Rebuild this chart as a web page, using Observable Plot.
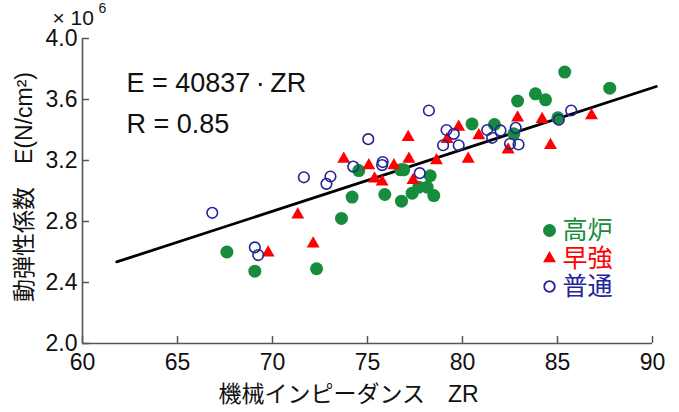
<!DOCTYPE html>
<html><head><meta charset="utf-8">
<script src="https://cdn.jsdelivr.net/npm/d3@7"></script>
<script src="https://cdn.jsdelivr.net/npm/@observablehq/plot@0.6"></script>
<style>html,body{margin:0;padding:0;background:#fff}</style>
</head><body><div id="chart"></div>
<script>
const xTicks = [60, 65, 70, 75, 80, 85, 90];
const yTicks = [2.0, 2.4, 2.8, 3.2, 3.6, 4.0];

const categories = ["高炉", "早強", "普通"];

// 高炉 (blast-furnace cement)
const koroX = [67.6, 69.07, 72.32, 73.63, 74.19, 74.54, 75.91, 76.74, 76.91, 76.79, 77.35, 77.7, 78.14, 78.49, 78.3, 80.5, 81.68, 82.7, 82.9, 83.84, 84.37, 85.02, 85.38, 87.75];
const koroY = [2.60, 2.474, 2.49, 2.82, 2.96, 3.134, 2.977, 3.139, 3.139, 2.933, 2.986, 3.025, 3.025, 2.97, 3.10, 3.44, 3.436, 3.375, 3.59, 3.637, 3.598, 3.48, 3.78, 3.674];

// 早強 (high-early-strength)
const sokyoX = [69.77, 71.33, 72.14, 73.75, 75.07, 75.37, 75.77, 76.39, 77.14, 77.18, 77.4, 78.63, 79.19, 79.8, 80.3, 80.86, 82.4, 82.9, 84.19, 84.63, 86.79];
const sokyoY = [2.595, 2.844, 2.654, 3.21, 3.167, 3.08, 3.06, 3.167, 3.353, 3.21, 3.07, 3.2, 3.34, 3.42, 3.21, 3.364, 3.27, 3.48, 3.47, 3.30, 3.495];

// 普通 (ordinary)
const futsuX = [66.83, 69.07, 69.25, 71.65, 72.84, 73.05, 74.25, 75.04, 75.77, 75.8, 77.75, 78.23, 78.98, 79.16, 79.54, 79.8, 81.3, 81.56, 82.0, 82.5, 82.8, 82.95, 85.07, 85.72];
const futsuY = [2.857, 2.63, 2.58, 3.09, 3.047, 3.095, 3.16, 3.34, 3.17, 3.19, 3.117, 3.528, 3.30, 3.40, 3.375, 3.30, 3.40, 3.349, 3.397, 3.31, 3.414, 3.305, 3.467, 3.528];

// regression line E = 40837・ZR (end points)
const regX = [61.8, 90.2];
const regY = [2.535, 3.685];

const green = "#168c3c", red = "#ff0000", navy = "#23239a", axisColor = "#555";
const toRows = (xs, ys) => xs.map((x, i) => ({x, y: ys[i]}));

const legendStyles = [
  {symbol: "circle", fill: green, stroke: "none", r: 6.5, color: green},
  {symbol: "triangle", fill: red, stroke: "none", r: 4.8, color: red},
  {symbol: "circle", fill: "none", stroke: navy, r: 5.3, color: navy}
];
const legendMarks = categories.flatMap((c, i) => {
  const s = legendStyles[i];
  return [
    Plot.dot([c], {frameAnchor: "top-left", dx: 467, dy: 192 + i * 28, symbol: s.symbol, r: s.r, fill: s.fill, stroke: s.stroke, strokeWidth: 1.8}),
    Plot.text([c], {frameAnchor: "top-left", dx: 480, dy: 192 + i * 28, text: d => d, fill: s.color, fontSize: 25, textAnchor: "start", lineAnchor: "middle"})
  ];
});

const plotH = 412 - 38 - 69, plotW = 679 - 82 - 27, tickLen = 7;

const chart = Plot.plot({
  width: 679, height: 412,
  marginLeft: 82, marginRight: 27, marginTop: 38, marginBottom: 69,
  style: {fontFamily: "'Liberation Sans', 'Noto Sans CJK JP', sans-serif", overflow: "visible", background: "#fff"},
  x: {domain: [60, 90]},
  y: {domain: [2.0, 4.0]},
  marks: [
    // inward tick marks
    Plot.ruleX(xTicks, {x: d => d, insetTop: plotH - tickLen, stroke: axisColor, strokeWidth: 1.5}),
    Plot.ruleY(yTicks, {y: d => d, insetRight: plotW - tickLen, stroke: axisColor, strokeWidth: 1.5}),
    Plot.axisX(xTicks, {anchor: "bottom", tickSize: 0, tickPadding: 10, fontSize: 23, fill: "#111", label: null}),
    Plot.axisY(yTicks, {anchor: "left", tickSize: 0, tickPadding: 5, fontSize: 23, fill: "#111", tickFormat: d3.format(".1f"), label: null}),
    Plot.ruleY([2.0], {stroke: axisColor, strokeWidth: 1.6}),
    Plot.ruleX([60], {stroke: axisColor, strokeWidth: 1.6}),
    Plot.line(toRows(regX, regY), {x: "x", y: "y", stroke: "#000", strokeWidth: 2.8}),
    Plot.dot(toRows(koroX, koroY), {x: "x", y: "y", r: 6.5, fill: green}),
    Plot.dot(toRows(sokyoX, sokyoY), {x: "x", y: "y", r: 4.8, symbol: "triangle", fill: red}),
    Plot.dot(toRows(futsuX, futsuY), {x: "x", y: "y", r: 5.3, fill: "none", stroke: navy, strokeWidth: 1.6}),
    Plot.text(["E = 40837\u2009·\u2009ZR"], {frameAnchor: "top-left", dx: 44, dy: 44.5, text: d => d, fontSize: 27, textAnchor: "start", lineAnchor: "middle", fill: "#111"}),
    Plot.text(["R = 0.85"], {frameAnchor: "top-left", dx: 44, dy: 85.5, text: d => d, fontSize: 27, textAnchor: "start", lineAnchor: "middle", fill: "#111"}),
    Plot.text(["× 10"], {frameAnchor: "top-left", dx: -30, dy: -14, text: d => d, fontSize: 21, textAnchor: "start", lineAnchor: "bottom", fill: "#111"}),
    Plot.text(["6"], {frameAnchor: "top-left", dx: 16, dy: -26, text: d => d, fontSize: 14, textAnchor: "start", lineAnchor: "bottom", fill: "#111"}),
    Plot.text(["動弾性係数　E(N/cm²)"], {frameAnchor: "left", dx: -58, dy: -4, rotate: -90, text: d => d, fontSize: 23, textAnchor: "middle", lineAnchor: "middle", fill: "#111"}),
    Plot.text(["機械インピーダンス　ZR"], {frameAnchor: "bottom", dx: -19, dy: 51, text: d => d, fontSize: 23, textAnchor: "middle", lineAnchor: "middle", fill: "#111"}),
    ...legendMarks
  ]
});
document.getElementById("chart").appendChild(chart);
</script>
</body></html>
